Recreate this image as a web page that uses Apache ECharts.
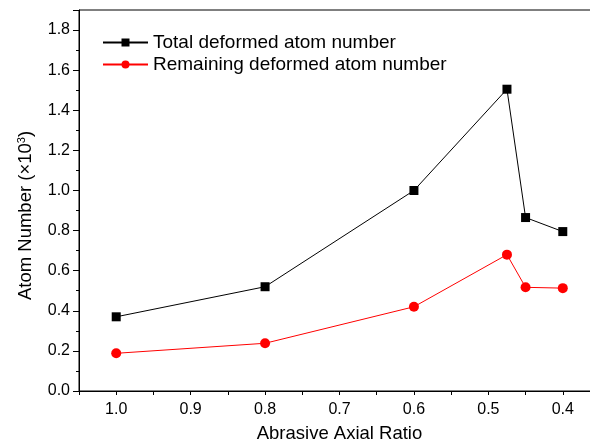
<!DOCTYPE html>
<html>
<head>
<meta charset="utf-8">
<script src="https://cdn.jsdelivr.net/npm/echarts@6/dist/echarts.min.js"></script>
<style>
  html, body { margin: 0; padding: 0; background: #fff; }
  #chart { width: 590px; height: 444px; }
</style>
</head>
<body>
<div id="chart"></div>
<script>
const ratios = [1.0, 0.8, 0.6, 0.475, 0.45, 0.4];
const totalDeformed = [0.37, 0.52, 1.0, 1.505, 0.865, 0.795];
const remainingDeformed = [0.188, 0.238, 0.42, 0.68, 0.517, 0.513];
const seriesNames = ["Total deformed atom number", "Remaining deformed atom number"];

const font = "Liberation Sans, Arial, sans-serif";
const pairs = (xs, ys) => xs.map((x, i) => [x, ys[i]]);

const option = {
  animation: false,
  textStyle: { fontFamily: font },
  grid: {
    left: 79,
    top: 10,
    right: -10,
    bottom: 53,
    outerBoundsMode: "none",
    containLabel: false,
    show: true,
    borderColor: "#000",
    borderWidth: 1,
  },
  legend: {
    orient: "vertical",
    left: 102,
    top: 33,
    padding: 0,
    itemWidth: 45,
    itemHeight: 10,
    itemGap: 3,
    textStyle: { fontSize: 19, color: "#000", fontFamily: font },
    data: seriesNames,
  },
  xAxis: {
    type: "value",
    inverse: true,
    min: 0.35,
    max: 1.05,
    interval: 0.05,
    name: "Abrasive Axial Ratio",
    nameLocation: "middle",
    nameGap: 33,
    nameTextStyle: { fontSize: 18.5, color: "#000" },
    axisLine: { lineStyle: { color: "#000", width: 1 } },
    axisTick: { length: 4, lineStyle: { color: "#000" } },
    axisLabel: {
      fontSize: 16,
      color: "#000",
      margin: 11,
      formatter: (v) => {
        const k = Math.round(v * 100);
        return k % 10 === 0 && k >= 40 && k <= 100 ? (k / 100).toFixed(1) : "";
      },
    },
    splitLine: { show: false },
  },
  yAxis: {
    type: "value",
    min: 0,
    max: 1.9,
    interval: 0.2,
    name: "Atom Number (×10{sup|3})",
    nameLocation: "middle",
    nameGap: 43,
    nameTextStyle: {
      fontSize: 18.5,
      color: "#000",
      padding: [0, 30, 0, 0],
      rich: { sup: { fontSize: 11, verticalAlign: "top", color: "#000", padding: [0, 0, 9, 0] } },
    },
    axisLine: { show: true, lineStyle: { color: "#000", width: 1 } },
    axisTick: { length: 6, lineStyle: { color: "#000" } },
    minorTick: { show: true, splitNumber: 2, length: 3, lineStyle: { color: "#000" } },
    axisLabel: {
      fontSize: 16,
      color: "#000",
      margin: 9,
      formatter: (v) => {
        const k = Math.round(v * 10);
        return k % 2 === 0 ? v.toFixed(1) : "";
      },
    },
    splitLine: { show: false },
  },
  series: [
    {
      name: seriesNames[0],
      type: "line",
      data: pairs(ratios, totalDeformed),
      symbol: "rect",
      symbolSize: 9,
      itemStyle: { color: "#000" },
      lineStyle: { color: "#000", width: 1 },
    },
    {
      name: seriesNames[1],
      type: "line",
      data: pairs(ratios, remainingDeformed),
      symbol: "circle",
      symbolSize: 10,
      itemStyle: { color: "#ff0000" },
      lineStyle: { color: "#ff0000", width: 1 },
    },
  ],
};

echarts.init(document.getElementById("chart")).setOption(option);
</script>
</body>
</html>
